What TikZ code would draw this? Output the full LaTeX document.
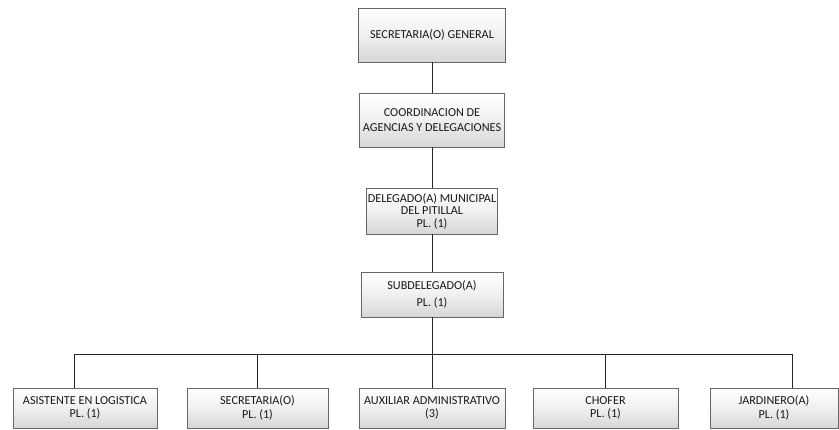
\documentclass[tikz,border=0pt]{standalone}
\usepackage{fontspec}
\setmainfont{Carlito}
\begin{document}
\begin{tikzpicture}[x=1pt,y=-1pt,
  orgbox/.style={draw=black!60, line width=0.8pt, top color=white, bottom color=black!16,
    middle color=black!6,
    align=center, inner sep=1pt, text=black!90,
    minimum width=#1, anchor=center},
  fs/.style={font=\fontsize{12.2}{#1}\selectfont},
  link/.style={draw=black!85, line width=1pt}]
\useasboundingbox (0,0) rectangle (839,429);
\node[orgbox=147pt, minimum height=54pt, fs=15] (sg) at (432,35) {SECRETARIA(O) GENERAL};
\node[orgbox=145pt, minimum height=54pt, fs=15] (coord) at (432,120) {COORDINACION DE\\AGENCIAS Y DELEGACIONES};
\node[orgbox=130pt, minimum height=46pt, fs=12.5] (del) at (432,211) {DELEGADO(A) MUNICIPAL\\DEL PITILLAL\\PL. (1)};
\node[orgbox=142pt, minimum height=45pt, fs=17] (sub) at (432,294.5) {SUBDELEGADO(A)\\PL. (1)};
\node[orgbox=144pt, minimum height=40pt, fs=13.5] (b1) at (85,408) {ASISTENTE EN LOGISTICA\\PL. (1)};
\node[orgbox=141pt, minimum height=40pt, fs=13.5] (b2) at (257.5,408) {SECRETARIA(O)\\PL. (1)};
\node[orgbox=146pt, minimum height=40pt, fs=13.5] (b3) at (432,408) {AUXILIAR ADMINISTRATIVO\\(3)};
\node[orgbox=145pt, minimum height=40pt, fs=13.5] (b4) at (605.5,408) {CHOFER\\PL. (1)};
\node[orgbox=128pt, minimum height=40pt, fs=13.5] (b5) at (774,408) {JARDINERO(A)\\PL. (1)};
\coordinate (busL) at (74,354);
\coordinate (busR) at (792,354);
\draw[link] (sg.south) -- (coord.north);
\draw[link] (coord.south) -- (del.north);
\draw[link] (del.south) -- (sub.north);
\draw[link] (sub.south) -- (sub.south |- busL);
\draw[link] (b1.north -| busL) -- (busL) -- (busR) -- (b5.north -| busR);
\draw[link] (b2.north) -- (b2.north |- busL);
\draw[link] (b3.north) -- (b3.north |- busL);
\draw[link] (b4.north) -- (b4.north |- busL);
\end{tikzpicture}
\end{document}
